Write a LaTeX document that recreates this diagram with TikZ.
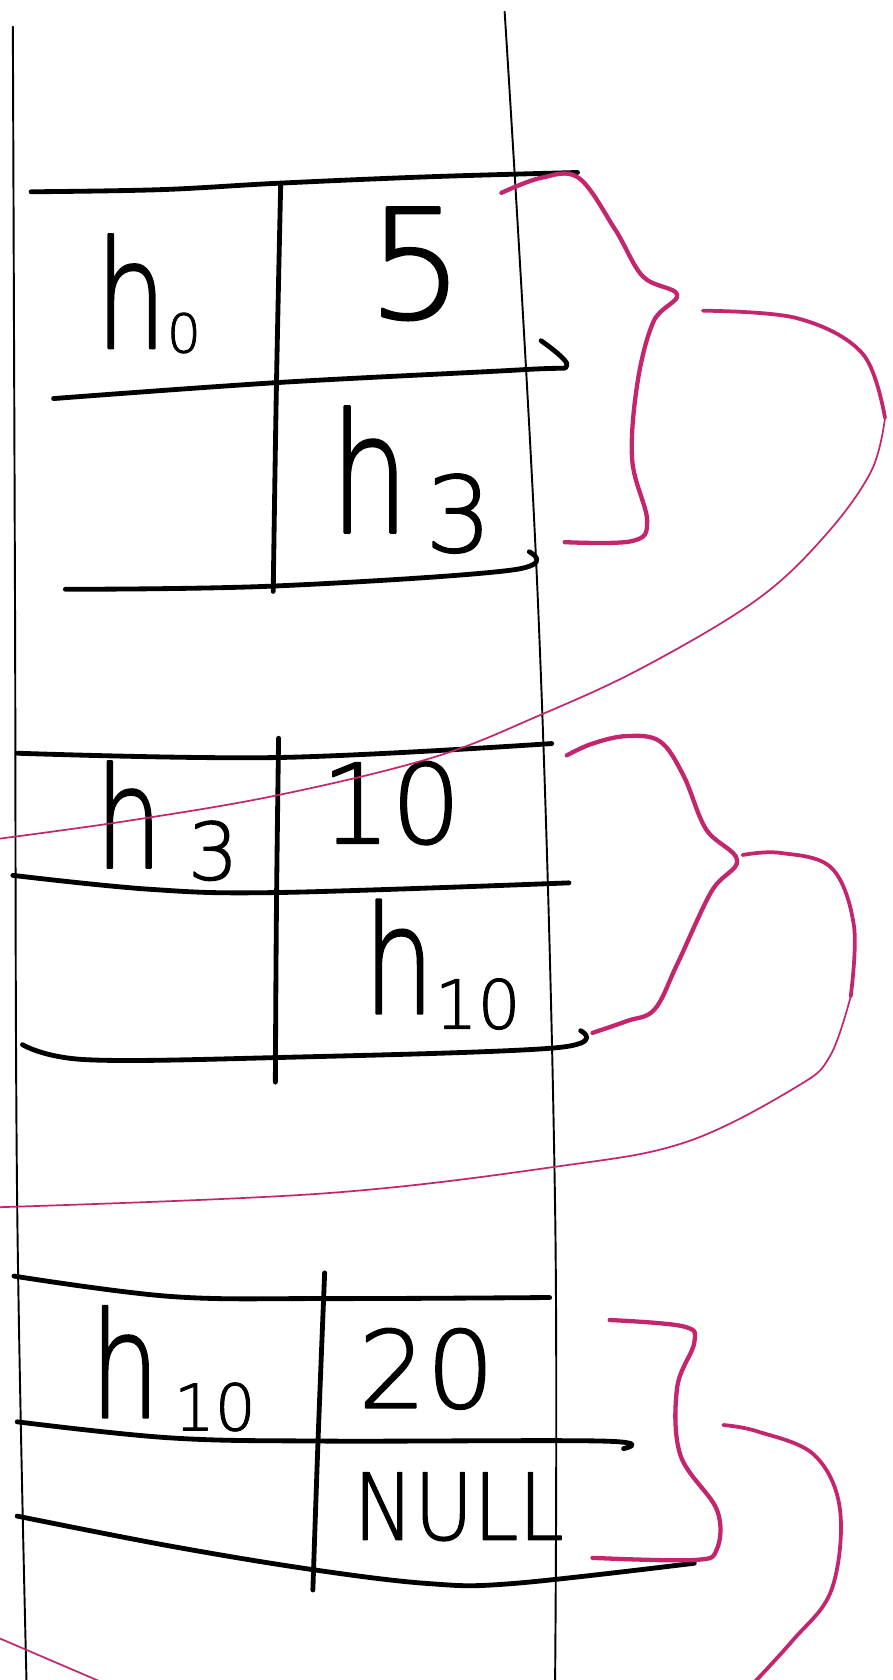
\documentclass[tikz,border=0pt]{standalone}
\usepackage{fontspec}
\newfontfamily\hand[FakeBold=1.5]{DejaVu Sans ExtraLight}
\definecolor{mag}{RGB}{196,38,110}
\newcommand{\fsz}[1]{\fontsize{#1}{#1}\selectfont}
\newcommand{\hh}{\scalebox{0.75}[1]{h}}
\begin{document}
\begin{tikzpicture}[x=1pt,y=-1pt, line cap=round, line join=round,
  ink/.style={line width=4.5pt, black},
  rail/.style={line width=1.8pt, black},
  brace/.style={line width=4pt, mag},
  thick thread/.style={line width=3.5pt, mag},
  thread/.style={line width=1.6pt, mag},
  lbl/.style={inner sep=0pt, font=\hand, text=black}]
\fill[white] (0,0) rectangle (833,1568);
\useasboundingbox (0,0) rectangle (833,1568);
\clip (0,0) rectangle (833,1568);

% outer rails
\draw[rail] plot[smooth, tension=0.6] coordinates {(12,25) (14,560) (16,1121) (25,1580)};
\draw[rail] plot[smooth, tension=0.6] coordinates {(471,11) (502,560) (518,1121) (518,1580)};

% block 1
\draw[ink] plot[smooth, tension=0.6] coordinates {(29,179) (150,177) (260,171) (400,165) (539,161)};
\draw[ink] plot[smooth, tension=0.6] coordinates {(262,171) (258,360) (255,552)};
\draw[ink] plot[smooth, tension=0.6] coordinates {(50,372) (260,357) (489,345) (529,341) (505,318)};
\draw[ink] plot[smooth, tension=0.6] coordinates {(61,550) (255,547) (478,532) (494,515)};

% block 2
\draw[ink] plot[smooth, tension=0.6] coordinates {(16,703) (260,707) (515,694)};
\draw[ink] plot[smooth, tension=0.6] coordinates {(260,689) (258,850) (257,1010)};
\draw[ink] plot[smooth, tension=0.6] coordinates {(12,817) (140,830) (260,833) (531,824)};
\draw[ink] plot[smooth, tension=0.6] coordinates {(21,975) (80,989) (260,987) (518,978) (542,962)};

% block 3
\draw[ink] plot[smooth, tension=0.6] coordinates {(13,1191) (159,1210) (303,1212) (513,1211)};
\draw[ink] plot[smooth, tension=0.6] coordinates {(303,1188) (297,1340) (292,1484)};
\draw[ink] plot[smooth, tension=0.6] coordinates {(16,1327) (159,1342) (303,1345) (563,1345) (582,1352)};
\draw[ink] plot[smooth, tension=0.6] coordinates {(16,1415) (159,1443) (292,1465) (400,1478) (478,1478) (648,1459)};

% labels
\node[lbl, anchor=base west] (l1a) at (89,325) {\fsz{140}\hh\raisebox{-4pt}{\fsz{50}0}};
\node[lbl, anchor=base] (l1b) at (388,297) {\fsz{142}5};
\node[lbl, anchor=base west] (l1c) at (308,497) {\fsz{155}\hh\kern15pt\raisebox{-18pt}{\fsz{98}3}};
\node[lbl, anchor=base west] (l2a) at (89,810) {\fsz{131}\hh\kern24pt\raisebox{-11pt}{\fsz{74}3}};
\node[lbl, anchor=base] (l2b) at (365,787) {\fsz{103}10};
\node[lbl, anchor=base west] (l2c) at (339,946) {\fsz{140}\hh\raisebox{-14pt}{\fsz{63}10}};
\node[lbl, anchor=base west] (l3a) at (84,1323) {\fsz{137}\hh\kern13pt\raisebox{-12pt}{\fsz{60}10}};
\node[lbl, anchor=base] (l3b) at (398,1314) {\fsz{100}20};
\node[lbl, anchor=base] (l3c) at (428,1437) {\scalebox{0.88}[1]{\fsz{86}NULL}};

% braces
\draw[brace] plot[smooth, tension=0.6] coordinates {(468,180) (505,166) (540,166) (574,214) (600,258) (632,275) (610,300) (595,357) (590,429) (604,486) (590,505) (527,506)};
\draw[brace] plot[smooth, tension=0.6] coordinates {(529,705) (553,694) (585,687) (616,692) (638,724) (659,774) (688,803) (664,832) (632,900) (611,942) (585,953) (553,964)};
\draw[brace] plot[smooth, tension=0.6] coordinates {(569,1232) (638,1238) (648,1253) (632,1295) (635,1358) (669,1409) (669,1446) (648,1456) (553,1454)};

\coordinate (t1) at (656,290);
\coordinate (t2) at (693,798);
\coordinate (t3) at (675,1330);
\coordinate (e1) at (-10,784);
\coordinate (e2) at (-10,1127);

% link threads
\draw[thick thread] plot[smooth, tension=0.6] coordinates {(t1) (744,297) (805,330) (826,390)};
\draw[thread] plot[smooth, tension=0.6] coordinates {(826,390) (813,440) (770,500) (706,560) (600,623) (505,667) (404,707) (260,742) (120,766) (e1)};
\draw[thick thread] plot[smooth, tension=0.6] coordinates {(t2) (728,796) (776,810) (797,864) (794,930)};
\draw[thread] plot[smooth, tension=0.6] coordinates {(794,930) (775,985) (744,1014) (640,1066) (518,1089) (300,1114) (e2)};
\draw[thick thread] plot[smooth, tension=0.6] coordinates {(t3) (707,1336) (760,1358) (784,1409) (776,1484) (739,1532) (690,1585)};
\draw[thread] (-10,1525) -- (130,1585);
\end{tikzpicture}
\end{document}
